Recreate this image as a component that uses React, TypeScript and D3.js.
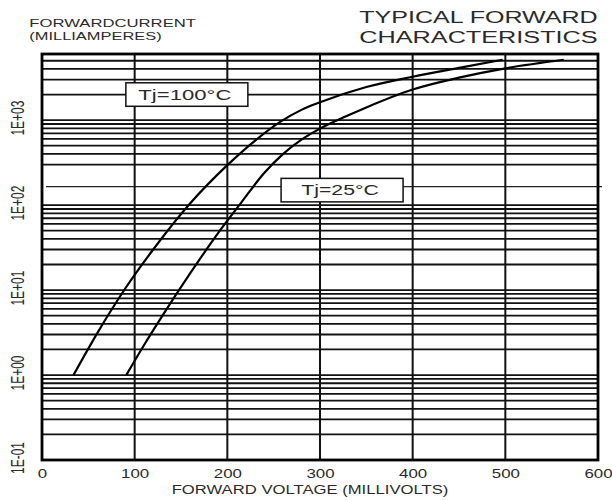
import React from "react";
import * as d3 from "d3";

// ---- data ----
const xTickValues = [0, 100, 200, 300, 400, 500, 600];
const yLabelValues = [0.1, 1, 10, 100, 1000];
const yLabelTexts = ["1E-01", "1E+00", "1E+01", "1E+02", "1E+03"];

// Tj = 100°C : forward voltage (mV) vs forward current (mA)
const v100 = [34, 60, 90, 120, 160, 200, 230, 257, 280, 300, 350, 400, 450, 497];
const i100 = [1.0, 3.16, 10.5, 30, 105, 295, 575, 955, 1320, 1620, 2450, 3240, 4120, 5130];

// Tj = 25°C
const v25 = [91, 110, 130, 160, 190, 215, 240, 260, 280, 300, 325, 350, 400, 450, 500, 563];
const i25 = [1.0, 2.24, 5.0, 15.8, 46.8, 107, 240, 398, 589, 794, 1070, 1410, 2290, 3160, 4070, 5130];

const curveLabels = ["Tj=100°C", "Tj=25°C"];
const labelAnchorV = [90.5, 258]; // box left edge (mV)
const labelAnchorI = [2000, 150]; // box vertical centre (mA)

const missingGrid = [200]; // gridline absent in the reference
const offGridLine = 165; // thin stray line in the reference

const W = 612;
const H = 500;
const left = 42;
const right = 598;
const top = 54;
const bottom = 460;
const FONT = "'Liberation Sans', Arial, Helvetica, sans-serif";
const TXT = "#2a2a2a";

export default function App() {
  const x = d3.scaleLinear().domain([0, 600]).range([left, right]);
  const y = d3.scaleLog().domain([0.1, 6000]).range([bottom, top]);

  const gridY = y
    .ticks()
    .filter((v) => v > 0.1 * 1.0001 && v < 6000 * 0.9999)
    .filter((v) => !missingGrid.some((m) => Math.abs(m - v) < 1e-6));

  const line = d3
    .line<[number, number]>()
    .x((d) => x(d[0]))
    .y((d) => y(d[1]))
    .curve(d3.curveMonotoneX);

  const d100 = line(v100.map((v, k) => [v, i100[k]] as [number, number])) || "";
  const d25 = line(v25.map((v, k) => [v, i25[k]] as [number, number])) || "";

  const boxW = [122, 122];
  const boxH = 23.5;
  const textLens = [93, 77.6];

  return (
    <svg
      width={W}
      height={H}
      viewBox={`0 0 ${W} ${H}`}
      style={{ position: "absolute", left: 0, top: 0, background: "#fff" }}
    >
      <rect x={0} y={0} width={W} height={H} fill="#fff" />
      {/* horizontal grid */}
      {gridY.map((v, k) => (
        <line
          key={"h" + k}
          x1={left}
          x2={right}
          y1={y(v)}
          y2={y(v)}
          stroke="#111"
          strokeWidth={1.8}
        />
      ))}
      <line
        x1={left + 4}
        x2={right + 4}
        y1={y(offGridLine)}
        y2={y(offGridLine)}
        stroke="#222"
        strokeWidth={1.1}
      />
      {/* vertical grid */}
      {xTickValues.map((v, k) => (
        <line
          key={"v" + k}
          x1={x(v)}
          x2={x(v)}
          y1={top}
          y2={bottom}
          stroke="#111"
          strokeWidth={2}
        />
      ))}
      {/* frame */}
      <rect
        x={left}
        y={top}
        width={right - left}
        height={bottom - top}
        fill="none"
        stroke="#000"
        strokeWidth={2.8}
      />
      {/* curves */}
      <path d={d100} fill="none" stroke="#000" strokeWidth={2.2} />
      <path d={d25} fill="none" stroke="#000" strokeWidth={2.2} />

      {/* curve labels */}
      {curveLabels.map((t, k) => {
        const bx = x(labelAnchorV[k]);
        const cy = y(labelAnchorI[k]);
        return (
          <g key={"lab" + k}>
            <rect
              x={bx}
              y={cy - boxH / 2}
              width={boxW[k]}
              height={boxH}
              fill="#fff"
              stroke="#111"
              strokeWidth={1.5}
            />
            <text
              x={bx + boxW[k] / 2 - 2}
              y={cy + 5.3}
              textAnchor="middle"
              fontFamily={FONT}
              fontSize={15}
              fill={TXT}
              textLength={textLens[k]}
              lengthAdjust="spacingAndGlyphs"
            >
              {t}
            </text>
          </g>
        );
      })}

      {/* x tick labels */}
      {xTickValues.map((v, k) => (
        <text
          key={"xt" + k}
          transform={`translate(${x(v) + 0.5},478.3) scale(1.35,1)`}
          textAnchor="middle"
          fontFamily={FONT}
          fontSize={12.5}
          fill={TXT}
        >
          {String(v)}
        </text>
      ))}

      {/* y tick labels */}
      {yLabelValues.map((v, k) => (
        <text
          key={"yt" + k}
          transform={`translate(24,${y(v) - 2}) scale(1.5,1) rotate(-90)`}
          textAnchor="middle"
          fontFamily={FONT}
          fontSize={12}
          fill={TXT}
        >
          {yLabelTexts[k]}
        </text>
      ))}

      {/* axis titles */}
      <text
        x={171.7}
        y={494}
        fontFamily={FONT}
        fontSize={12.5}
        fill={TXT}
        textLength={276.6}
        lengthAdjust="spacingAndGlyphs"
      >
        FORWARD VOLTAGE (MILLIVOLTS)
      </text>
      <text
        x={29.3}
        y={26.7}
        fontFamily={FONT}
        fontSize={10.8}
        fill={TXT}
        textLength={166.7}
        lengthAdjust="spacingAndGlyphs"
      >
        FORWARDCURRENT
      </text>
      <text
        x={29.3}
        y={39.5}
        fontFamily={FONT}
        fontSize={10.8}
        fill={TXT}
        textLength={132.4}
        lengthAdjust="spacingAndGlyphs"
      >
        (MILLIAMPERES)
      </text>

      {/* title */}
      <text
        x={359.3}
        y={23.3}
        fontFamily={FONT}
        fontSize={16.3}
        fill={TXT}
        textLength={238.4}
        lengthAdjust="spacingAndGlyphs"
      >
        TYPICAL FORWARD
      </text>
      <text
        x={359.3}
        y={43.3}
        fontFamily={FONT}
        fontSize={16.3}
        fill={TXT}
        textLength={238.4}
        lengthAdjust="spacingAndGlyphs"
      >
        CHARACTERISTICS
      </text>
    </svg>
  );
}
